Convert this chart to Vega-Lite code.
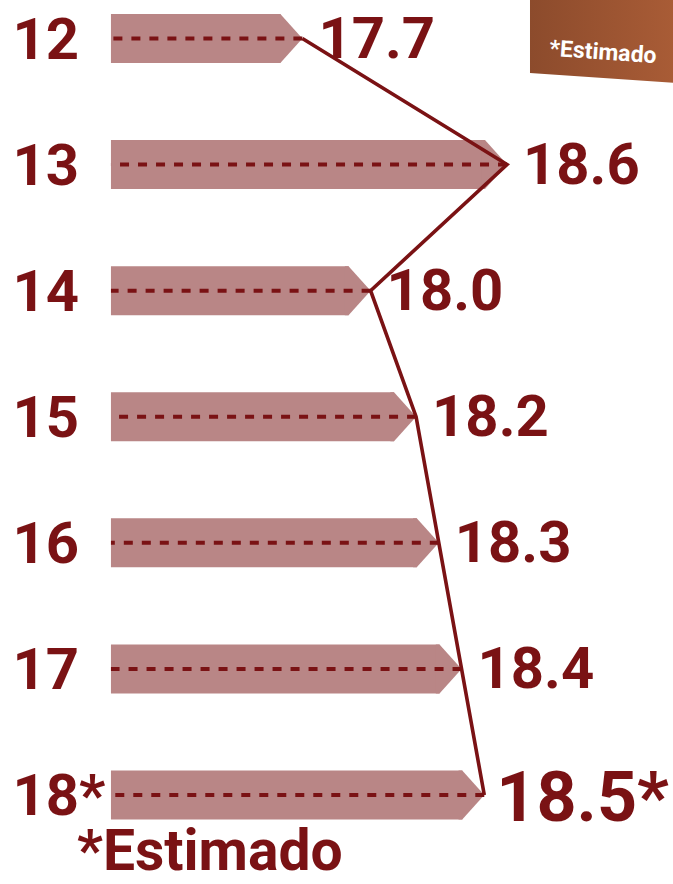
{
  "$schema": "https://vega.github.io/schema/vega-lite/v6.json",
  "width": 673,
  "height": 884,
  "autosize": "none",
  "padding": 0,
  "background": "white",
  "config": {"view": {"stroke": null}},
  "data": {
    "values": [
      {"anio": "12", "valor": 17.7, "etiqueta": "17.7", "estimado": false},
      {"anio": "13", "valor": 18.6, "etiqueta": "18.6", "estimado": false},
      {"anio": "14", "valor": 18.0, "etiqueta": "18.0", "estimado": false},
      {"anio": "15", "valor": 18.2, "etiqueta": "18.2", "estimado": false},
      {"anio": "16", "valor": 18.3, "etiqueta": "18.3", "estimado": false},
      {"anio": "17", "valor": 18.4, "etiqueta": "18.4", "estimado": false},
      {"anio": "18*", "valor": 18.5, "etiqueta": "18.5*", "estimado": true}
    ]
  },
  "encoding": {
    "y": {
      "field": "anio",
      "type": "ordinal",
      "sort": null,
      "scale": {"type": "point", "range": [38.5, 795], "padding": 0},
      "axis": {
        "title": null,
        "domain": false,
        "ticks": false,
        "tickSize": 0,
        "grid": false,
        "labelAlign": "left",
        "labelPadding": -12,
        "labelBaseline": "alphabetic",
        "labelOffset": 19.5,
        "labelFont": "Roboto",
        "labelFontWeight": "bold",
        "labelFontSize": 58,
        "labelColor": "#7a1214",
        "labelLimit": 0,
        "labelOverlap": false
      }
    }
  },
  "layer": [
    {
      "mark": {"type": "bar", "height": 49, "color": "#b98686", "xOffset": -22},
      "encoding": {
        "x": {"field": "valor", "type": "quantitative", "scale": {"domain": [16.37, 19.33], "nice": false, "zero": false}, "axis": null},
        "x2": {"datum": 16.858}
      }
    },
    {
      "mark": {"type": "point", "shape": "M-1.05,-1L-0.9,-1L0,0L-0.9,1L-1.05,1Z", "size": 2401, "filled": true, "color": "#b98686", "opacity": 1, "strokeWidth": 0},
      "encoding": {
        "x": {"field": "valor", "type": "quantitative", "scale": {"domain": [16.37, 19.33], "nice": false, "zero": false}, "axis": null}
      }
    },
    {
      "mark": {"type": "rule", "color": "#7a1214", "strokeWidth": 4, "strokeDash": [9, 9]},
      "encoding": {
        "x": {"field": "valor", "type": "quantitative", "scale": {"domain": [16.37, 19.33], "nice": false, "zero": false}, "axis": null},
        "x2": {"datum": 16.858}
      }
    },
    {
      "mark": {"type": "line", "color": "#7a1214", "strokeWidth": 3.6},
      "encoding": {
        "x": {"field": "valor", "type": "quantitative", "scale": {"domain": [16.37, 19.33], "nice": false, "zero": false}, "axis": null}
      }
    },
    {
      "transform": [{"filter": "!datum.estimado"}],
      "mark": {"type": "text", "font": "Roboto", "fontWeight": "bold", "fontSize": 58, "color": "#7a1214", "align": "left", "baseline": "alphabetic", "dx": 16, "dy": 19},
      "encoding": {
        "x": {"field": "valor", "type": "quantitative", "scale": {"domain": [16.37, 19.33], "nice": false, "zero": false}, "axis": null},
        "text": {"field": "etiqueta"}
      }
    },
    {
      "transform": [{"filter": "datum.estimado"}],
      "mark": {"type": "text", "font": "Roboto", "fontWeight": "bold", "fontSize": 70, "color": "#7a1214", "align": "left", "baseline": "alphabetic", "dx": 12, "dy": 26},
      "encoding": {
        "x": {"field": "valor", "type": "quantitative", "scale": {"domain": [16.37, 19.33], "nice": false, "zero": false}, "axis": null},
        "text": {"field": "etiqueta"}
      }
    },
    {
      "transform": [{"filter": "datum.estimado"}],
      "mark": {"type": "text", "text": "*Estimado", "font": "Roboto", "fontWeight": "bold", "fontSize": 57, "color": "#7a1214", "align": "left", "baseline": "alphabetic", "dy": 75},
      "encoding": {
        "x": {"datum": 16.7087, "type": "quantitative", "scale": {"domain": [16.37, 19.33], "nice": false, "zero": false}, "axis": null}
      }
    },
    {
      "transform": [{"filter": "datum.anio === '12'"}],
      "mark": {
        "type": "point",
        "shape": "M-1,-0.6L1.03,-0.6L1.03,0.622L-1,0.483Z",
        "size": 20449,
        "filled": true,
        "opacity": 1,
        "strokeWidth": 0,
        "fill": {"gradient": "linear", "x1": 0, "y1": 0, "x2": 1, "y2": 0, "stops": [{"offset": 0, "color": "#8c4b2c"}, {"offset": 1, "color": "#a95c36"}]}
      },
      "encoding": {
        "x": {"datum": 19.0155, "type": "quantitative", "scale": {"domain": [16.37, 19.33], "nice": false, "zero": false}, "axis": null}
      }
    },
    {
      "transform": [{"filter": "datum.anio === '12'"}],
      "mark": {"type": "text", "text": "*Estimado", "font": "Roboto", "fontWeight": "bold", "fontSize": 23, "color": "white", "align": "center", "baseline": "middle", "angle": 4, "dy": 14},
      "encoding": {
        "x": {"datum": 19.0265, "type": "quantitative", "scale": {"domain": [16.37, 19.33], "nice": false, "zero": false}, "axis": null}
      }
    }
  ]
}
